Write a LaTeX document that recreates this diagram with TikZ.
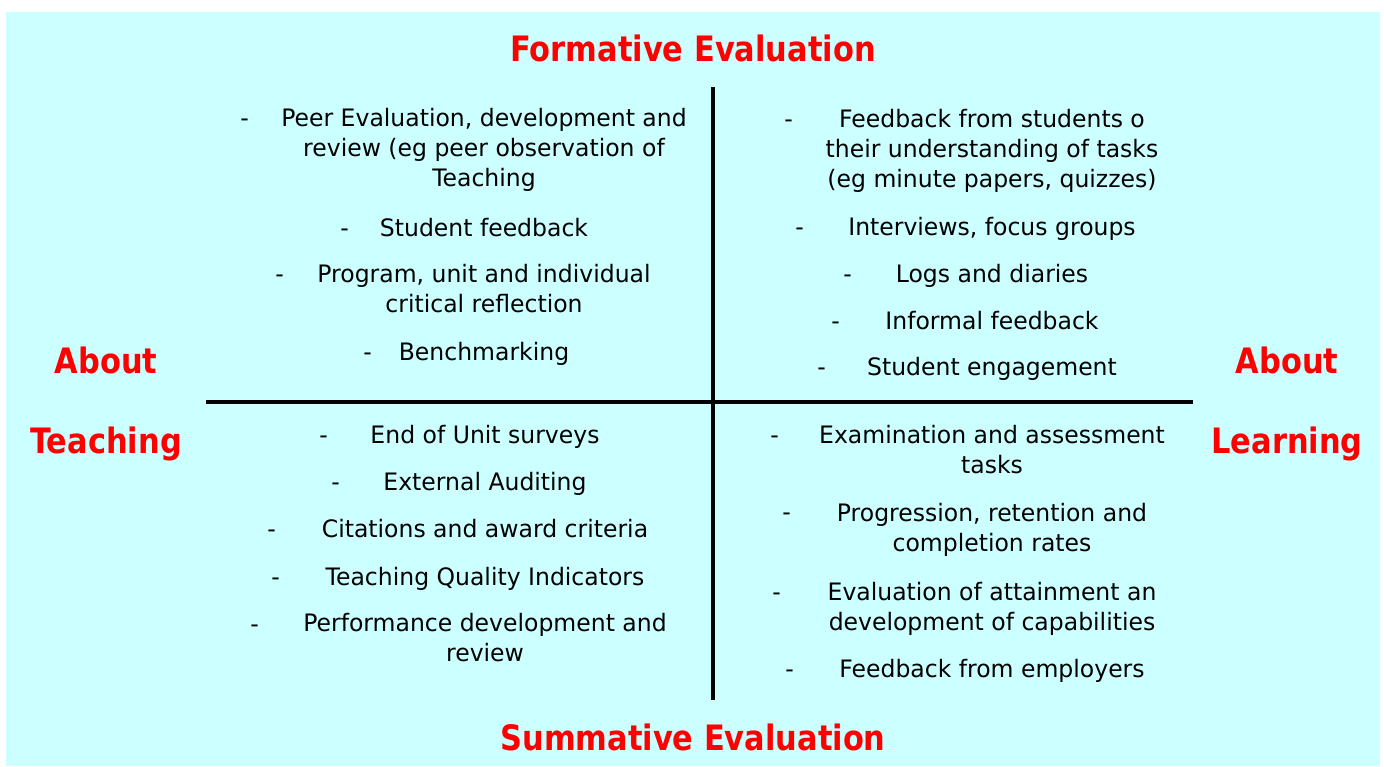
\documentclass[tikz,border=0pt]{standalone}
\usepackage{fontspec}
\setmainfont{DejaVu Sans}[FakeStretch=0.98]
\newfontfamily\headfont{DejaVu Sans Bold}[FakeStretch=0.87]
\usepackage{tikz}
\definecolor{panelcyan}{RGB}{204,255,255}
\definecolor{headred}{RGB}{255,0,0}

\begin{document}
\begin{tikzpicture}[x=0.5pt, y=-0.5pt,
        itemtext/.style={anchor=base, inner sep=0pt, align=center,
            font=\fontsize{12}{15}\selectfont},
        dashmark/.style={anchor=base west, inner sep=0pt,
            font=\fontsize{12}{15}\selectfont},
        headlabel/.style={anchor=base, inner sep=0pt, text=headred,
            font=\headfont\fontsize{17.5}{21}\selectfont},
        quadline/.style={line width=2pt, black}]
        \useasboundingbox (0,0) rectangle (1384,766);
        \fill[panelcyan] (6,12) rectangle (1380,766);

        % axes
        \coordinate (L) at (206,402);
        \coordinate (R) at (1193,402);
        \coordinate (T) at (713,87);
        \coordinate (B) at (713,700);
        \draw[quadline] (L) -- (R);
        \draw[quadline] (T) -- (B);

        % headings
        \node[headlabel] (formative) at (693,61) {Formative Evaluation};
        \node[headlabel] (summative) at (693,750) {Summative Evaluation};
        \node[headlabel] (aboutT) at (106,373) {About};
        \node[headlabel] (teaching) at (106,453) {Teaching};
        \node[headlabel] (aboutL) at (1287,373) {About};
        \node[headlabel] (learning) at (1287,453) {Learning};

        % formative, teaching (base = last line)
        \node[itemtext] (tl1) at (484,186) {Peer Evaluation, development and\\review (eg peer observation of\\Teaching};
        \node[dashmark] (tl1d) at (240,126) {-};
        \node[itemtext] (tl2) at (484,236) {Student feedback};
        \node[dashmark] (tl2d) at (340,236) {-};
        \node[itemtext] (tl3) at (484,312) {Program, unit and individual\\critical reflection};
        \node[dashmark] (tl3d) at (275,282) {-};
        \node[itemtext] (tl4) at (484,360) {Benchmarking};
        \node[dashmark] (tl4d) at (363,360) {-};

        % summative, teaching
        \node[itemtext] (bl1) at (485,443) {End of Unit surveys};
        \node[dashmark] (bl1d) at (319,443) {-};
        \node[itemtext] (bl2) at (485,490) {External Auditing};
        \node[dashmark] (bl2d) at (331,490) {-};
        \node[itemtext] (bl3) at (485,537) {Citations and award criteria};
        \node[dashmark] (bl3d) at (267,537) {-};
        \node[itemtext] (bl4) at (485,585) {Teaching Quality Indicators};
        \node[dashmark] (bl4d) at (271,585) {-};
        \node[itemtext] (bl5) at (485,661) {Performance development and\\review};
        \node[dashmark] (bl5d) at (250,632) {-};

        % formative, learning
        \node[itemtext] (tr1) at (992,187) {Feedback from students o\\their understanding of tasks\\(eg minute papers, quizzes)};
        \node[dashmark] (tr1d) at (784,127) {-};
        \node[itemtext] (tr2) at (992,235) {Interviews, focus groups};
        \node[dashmark] (tr2d) at (795,235) {-};
        \node[itemtext] (tr3) at (992,282) {Logs and diaries};
        \node[dashmark] (tr3d) at (843,282) {-};
        \node[itemtext] (tr4) at (992,329) {Informal feedback};
        \node[dashmark] (tr4d) at (831,329) {-};
        \node[itemtext] (tr5) at (992,375) {Student engagement};
        \node[dashmark] (tr5d) at (817,375) {-};

        % summative, learning
        \node[itemtext] (br1) at (992,473) {Examination and assessment\\tasks};
        \node[dashmark] (br1d) at (770,443) {-};
        \node[itemtext] (br2) at (992,551) {Progression, retention and\\completion rates};
        \node[dashmark] (br2d) at (782,520) {-};
        \node[itemtext] (br3) at (992,630) {Evaluation of attainment an\\development of capabilities};
        \node[dashmark] (br3d) at (772,600) {-};
        \node[itemtext] (br4) at (992,677) {Feedback from employers};
        \node[dashmark] (br4d) at (785,677) {-};
    \end{tikzpicture}
\end{document}
